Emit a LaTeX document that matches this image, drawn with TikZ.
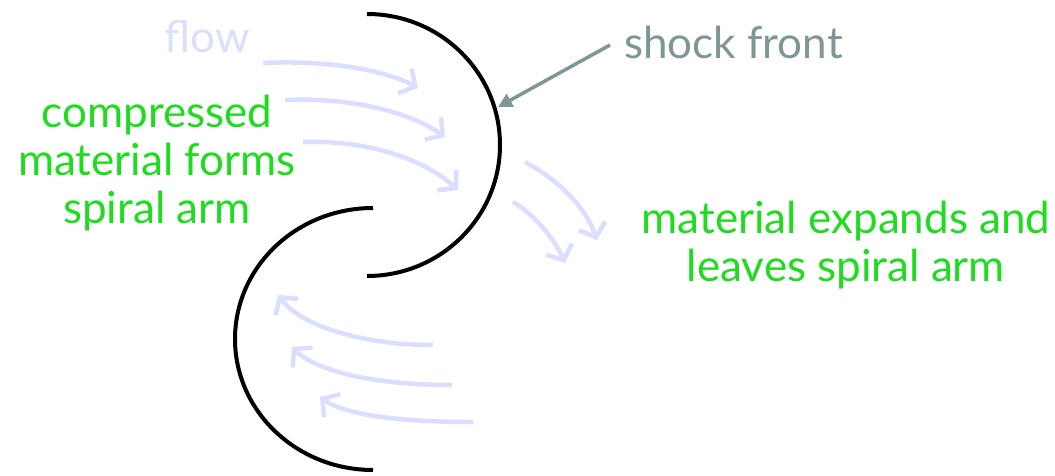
\documentclass[tikz,border=0pt]{standalone}
\usepackage{fontspec}
\setmainfont{Lato}
\usetikzlibrary{arrows.meta}
\definecolor{flowc}{RGB}{218,222,255}
\definecolor{greenc}{RGB}{30,220,30}
\definecolor{grayc}{RGB}{125,150,150}
\begin{document}
\begin{tikzpicture}[x=1pt,y=1pt,
  front/.style={line width=4pt,black},
  flowarrow/.style={line width=4.5pt,flowc,-{Straight Barb[length=12pt,width=28pt,line width=4.5pt]}},
  lbl/.style={font=\fontsize{44}{48}\selectfont,align=center,inner sep=0pt}]
\useasboundingbox (0,0) rectangle (1055,475);
% shock fronts
\draw[front] (367,461) arc[start angle=90,end angle=-90,x radius=133,y radius=131];
\draw[front] (373,267) arc[start angle=90,end angle=270,x radius=138,y radius=131];
% labels
\node[lbl,text=flowc] (flow) at (207,438) {flow};
\node[lbl,text=grayc,anchor=west] (shock) at (624,433) {shock front};
\node[lbl,text=greenc] (comp) at (157,312) {compressed\\material forms\\spiral arm};
\node[lbl,text=greenc] (exp) at (846,230) {material expands and\\leaves spiral arm};
% flow arrows coordinates
\coordinate (a1s) at (263,412); \coordinate (a1e) at (418,387);
\coordinate (a2s) at (285,375); \coordinate (a2e) at (445,338);
\coordinate (a3s) at (303,333); \coordinate (a3e) at (458,285);
\coordinate (b1s) at (433,130); \coordinate (b1e) at (278,180);
\coordinate (b2s) at (452,90);  \coordinate (b2e) at (292,128);
\coordinate (b3s) at (473,53);  \coordinate (b3e) at (320,78);
\coordinate (r1s) at (525,313); \coordinate (r1e) at (597,235);
\coordinate (r2s) at (513,273); \coordinate (r2e) at (565,212);
\coordinate (shockpt) at (498,368); \coordinate (shocks) at (610,430);
\draw[flowarrow] (a1s) .. controls (330,415) and (385,405) .. (a1e);
\draw[flowarrow] (a2s) .. controls (350,378) and (410,363) .. (a2e);
\draw[flowarrow] (a3s) .. controls (370,335) and (425,315) .. (a3e);
\draw[flowarrow] (b1s) .. controls (360,130) and (300,150) .. (b1e);
\draw[flowarrow] (b2s) .. controls (370,90) and (315,105) .. (b2e);
\draw[flowarrow] (b3s) .. controls (400,53) and (345,60) .. (b3e);
\draw[flowarrow] (r1s) .. controls (555,297) and (585,270) .. (r1e);
\draw[flowarrow] (r2s) .. controls (535,260) and (555,235) .. (r2e);
% pointer
\draw[grayc,line width=3.5pt,-{Triangle[length=14pt,width=14pt]}] (shocks) -- (shockpt);
\end{tikzpicture}
\end{document}
